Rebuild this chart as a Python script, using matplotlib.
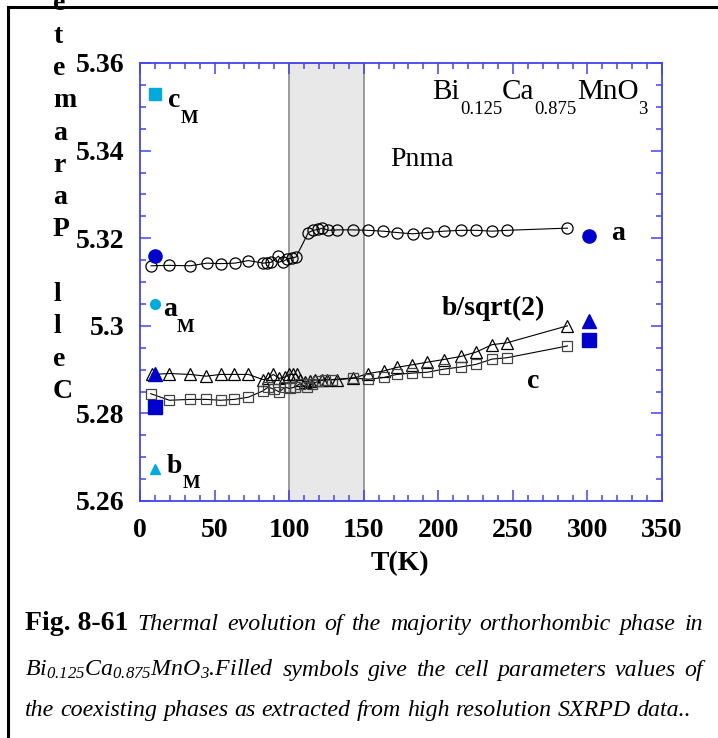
import numpy as np
import matplotlib.pyplot as plt
from matplotlib.lines import Line2D
from matplotlib.transforms import offset_copy
from matplotlib.ticker import MultipleLocator, FuncFormatter

plt.rcParams['font.family'] = 'Liberation Serif'
plt.rcParams['mathtext.default'] = 'regular'

# majority orthorhombic phase (open symbols)
T_a = [7.4, 19.7, 33.7, 44.7, 54.1, 63.7, 72.6, 82.7, 85, 88, 92.8, 95.7, 98.4,
       101.7, 104.6, 112.9, 116.3, 119.6, 122.3, 126.3, 132.3, 142.6, 152.6,
       163.1, 172.1, 182.8, 192.4, 203.6, 215.2, 225.5, 236.1, 245.9, 286.6]
a_par = [5.3137, 5.3138, 5.3137, 5.3143, 5.3142, 5.3143, 5.3149, 5.3143, 5.3144,
         5.3145, 5.3159, 5.3146, 5.3152, 5.3155, 5.3157, 5.3213, 5.3218, 5.3220,
         5.3223, 5.3218, 5.3219, 5.3219, 5.3218, 5.3216, 5.3213, 5.3210, 5.3213,
         5.3216, 5.3218, 5.3218, 5.3216, 5.3218, 5.3223]

T_b = [7.8, 19.7, 33.5, 44.3, 54.1, 63.3, 72.6, 82.7, 86, 89.4, 93.4, 97.2, 100.1,
       102.8, 105.0, 107.3, 110.7, 114, 117.4, 121.8, 125.2, 131.9, 142.6, 153.1,
       163.6, 172.1, 182.7, 192.7, 203.6, 215.1, 225.4, 236.1, 245.9, 286.6]
b_par = [5.2889, 5.2891, 5.2889, 5.2885, 5.2889, 5.2889, 5.2889, 5.2877, 5.2880,
         5.2889, 5.2880, 5.2883, 5.2889, 5.2889, 5.2889, 5.2876, 5.2872, 5.2874,
         5.2876, 5.2876, 5.2877, 5.2877, 5.2880, 5.2891, 5.2897, 5.2905, 5.2911,
         5.2917, 5.2923, 5.2930, 5.2940, 5.2957, 5.2961, 5.3000]

T_c = [7.2, 19.7, 33.5, 44.3, 54.1, 63.3, 72.6, 82.2, 86, 90, 93.4, 97.2, 100.3,
       103.7, 107.3, 111.8, 115.2, 119.6, 124.1, 128.6, 142.6, 153.1, 163.6,
       172.1, 182.6, 192.7, 203.6, 215.1, 225.4, 236.1, 245.9, 286.6]
c_par = [5.2845, 5.2830, 5.2832, 5.2832, 5.2830, 5.2832, 5.2837, 5.2851, 5.2860,
         5.2855, 5.2849, 5.2860, 5.2857, 5.2860, 5.2868, 5.2860, 5.2866, 5.2874,
         5.2877, 5.2877, 5.2881, 5.2878, 5.2882, 5.2889, 5.2892, 5.2894, 5.2901,
         5.2906, 5.2912, 5.2924, 5.2927, 5.2954]

# coexisting phases (filled symbols)
T_fill = [10, 301]
a_fill = [5.3159, 5.3205]
b_fill = [5.2889, 5.3011]
c_fill = [5.2815, 5.2967]

T_mono = 10
aM, bM, cM = 5.3049, 5.2674, 5.3529

blue = '#0000cc'
cyan = '#00aadd'
axcol = '#4444ee'

W, H = 718, 738
fig = plt.figure(figsize=(W / 100, H / 100), dpi=100)
ax = fig.add_axes([140 / W, 1 - 501 / H, 522 / W, 438 / H])
rend = fig.canvas.get_renderer()

ax.axvspan(100, 150, facecolor='#e8e8e8', edgecolor='#8a8a8a', lw=1.2, zorder=0)

ax.plot(T_a, a_par, '-o', color='k', lw=0.8, ms=8, mfc='none', mec='k', mew=0.9)
ax.plot(T_b, b_par, '-^', color='k', lw=0.8, ms=8, mfc='none', mec='k', mew=0.9)
ax.plot(T_c, c_par, '-s', color='k', lw=0.8, ms=7.5, mfc='none', mec='#444444', mew=0.9)

ax.plot(T_fill, a_fill, 'o', ls='none', color=blue, ms=9.5)
ax.plot(T_fill, b_fill, '^', ls='none', color=blue, ms=9.5)
ax.plot(T_fill, c_fill, 's', ls='none', color=blue, ms=10.5)

ax.plot(T_mono, cM, 's', color=cyan, ms=8.5)
ax.plot(T_mono, aM, 'o', color=cyan, ms=7)
ax.plot(T_mono, bM, '^', color=cyan, ms=7)

ax.set_xlim(0, 350)
ax.set_ylim(5.26, 5.36)
ax.xaxis.set_major_locator(MultipleLocator(50))
ax.xaxis.set_minor_locator(MultipleLocator(10))
ax.yaxis.set_major_locator(MultipleLocator(0.02))
ax.yaxis.set_minor_locator(MultipleLocator(0.005))
ax.yaxis.set_major_formatter(FuncFormatter(lambda v, p: '%g' % round(v, 3)))

for s in ax.spines.values():
    s.set_color(axcol)
    s.set_linewidth(1.3)
ax.tick_params(which='both', direction='in', top=True, right=True, color=axcol, width=1.1)
ax.tick_params(which='major', length=8)
ax.tick_params(which='minor', length=4)
ax.tick_params(axis='y', which='major', pad=11)
ax.tick_params(axis='x', which='major', pad=12)
for lab in ax.get_xticklabels() + ax.get_yticklabels():
    lab.set_fontsize(20)
    lab.set_fontweight('bold')


def chain(x, y, parts, **kw):
    # consecutive pieces of text; each part is (string, fontsize, drop in px)
    dx = 0
    for s, fs, drop in parts:
        tr = offset_copy(ax.transData, fig=fig, x=dx, y=-drop, units='dots')
        t = ax.text(x, y, s, fontsize=fs, va='baseline', transform=tr, **kw)
        dx += t.get_window_extent(rend).width


chain(18.8, 5.3499, [('c', 20, 0), ('M', 13.5, 16)], fontweight='bold')
chain(15.4, 5.3022, [('a', 20, 0), ('M', 13.5, 16)], fontweight='bold')
chain(18.0, 5.2663, [('b', 20, 0), ('M', 13.5, 15)], fontweight='bold')
chain(196.0, 5.3518, [('Bi', 21, 0), ('0.125', 13.5, 15), ('Ca', 21, 0),
                      ('0.875', 13.5, 15), ('MnO', 21, 0), ('3', 13.5, 15)])

bold = dict(fontsize=20, fontweight='bold', va='baseline')
ax.text(316, 5.3195, 'a', **bold)
ax.text(202.5, 5.3024, 'b/sqrt(2)', **bold)
ax.text(259.3, 5.2857, 'c', **bold)
ax.text(167.7, 5.3364, 'Pnma', fontsize=20, va='baseline')

# stacked y label, read upwards; the top of it runs off the page as in the original
label = 'Cell Parameter'
for i, ch in enumerate(label):
    base = 398 - 32.3 * i
    if ch != ' ' and base > 0:
        fig.text(53 / W, 1 - base / H, ch, fontsize=20,
                 fontweight='bold', ha='left', va='baseline')

fig.text(400 / W, 1 - 570 / H, 'T(K)', fontsize=20, fontweight='bold',
         ha='center', va='baseline')

# frame
fig.add_artist(Line2D([8 / W, 8 / W], [0, 1 - 7 / H], transform=fig.transFigure,
                      color='k', lw=2.2))
fig.add_artist(Line2D([8 / W, 1], [1 - 7 / H, 1 - 7 / H], transform=fig.transFigure,
                      color='k', lw=2.2))

# caption
cap_it = dict(fontsize=17.2, fontstyle='italic', va='baseline')
cap_bf = dict(fontsize=20, fontweight='bold', va='baseline')


def justify(words, y, x0, x1, stretch=True):
    texts = [fig.text(0, 1 - y / H, w, **kw) for w, kw in words]
    widths = [t.get_window_extent(rend).width for t in texts]
    if stretch:
        gap = (x1 - x0 - sum(widths)) / (len(words) - 1)
    else:
        gap = texts[0].get_fontsize() * 0.25 * 100 / 72
    x = x0
    for t, w in zip(texts, widths):
        t.set_x(x / W)
        x += w + gap


line1 = [('Fig. 8-61', cap_bf)] + [(w, cap_it) for w in
         'Thermal evolution of the majority orthorhombic phase in'.split()]
line2 = [(w, cap_it) for w in
         ['Bi$_{0.125}$Ca$_{0.875}$MnO$_3$.Filled'] +
         'symbols give the cell parameters values of'.split()]
line3 = [(w, cap_it) for w in
         'the coexisting phases as extracted from high resolution SXRPD data..'.split()]
justify(line1, 630, 25, 703)
justify(line2, 676, 25, 703)
justify(line3, 716, 25, 691, stretch=False)

fig.savefig('out.png', dpi=100)
